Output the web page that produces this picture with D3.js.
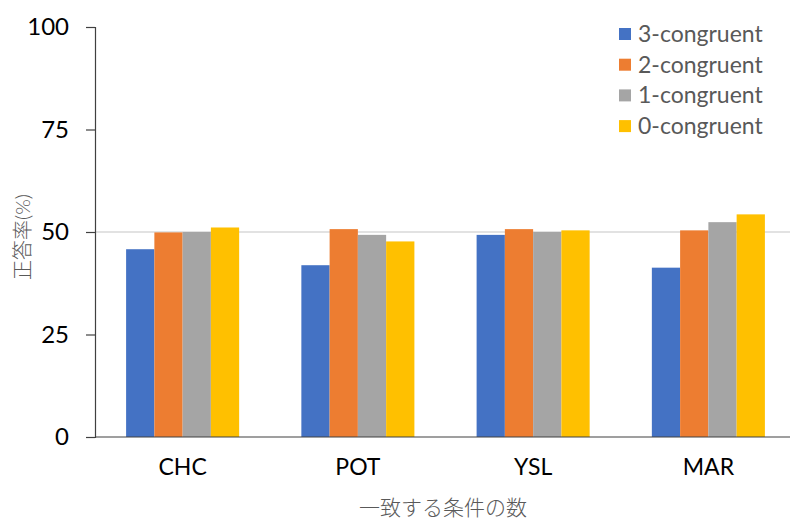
<!DOCTYPE html>
<html>
<head>
<meta charset="utf-8">
<script src="https://cdn.jsdelivr.net/npm/d3@7"></script>
<style>
  body { margin: 0; background: #fff; }
  svg { display: block; }
  text { font-family: Lato, "Noto Sans", "Noto Sans CJK JP", sans-serif; }
</style>
</head>
<body>
<svg id="chart" width="790" height="518"></svg>
<script>
const categories = ["CHC", "POT", "YSL", "MAR"];
const seriesNames = ["3-congruent", "2-congruent", "1-congruent", "0-congruent"];
const values3 = [45.8, 41.9, 49.3, 41.3];
const values2 = [49.9, 50.7, 50.7, 50.4];
const values1 = [50.0, 49.3, 50.0, 52.4];
const values0 = [51.1, 47.7, 50.4, 54.3];
const yTicks = [0, 25, 50, 75, 100];
const gridValues = [50];
const colors = ["#4472C4", "#ED7D31", "#A5A5A5", "#FFC000"];
const yTitle = "正答率(%)";
const xTitle = "一致する条件の数";

const seriesValues = [values3, values2, values1, values0];

const svg = d3.select("#chart");
const plotLeft = 95, plotRight = 796, plotTop = 27, plotBottom = 437;

const x = d3.scaleBand().domain(categories).range([plotLeft, plotRight]).paddingInner(0.355).paddingOuter(0.1775);
const xs = d3.scaleBand().domain(seriesNames).range([0, x.bandwidth()]);
const y = d3.scaleLinear().domain([0, 100]).range([plotBottom, plotTop]);

// gridline
svg.append("g").selectAll("line").data(gridValues).join("line")
  .attr("x1", plotLeft).attr("x2", 790)
  .attr("y1", d => y(d)).attr("y2", d => y(d))
  .attr("stroke", "#D9D9D9").attr("stroke-width", 1.5);

// bars
const groups = svg.append("g").selectAll("g").data(categories).join("g")
  .attr("transform", d => `translate(${x(d)},0)`);
groups.selectAll("rect")
  .data((c, ci) => seriesNames.map((s, si) => ({ s, si, v: seriesValues[si][ci] })))
  .join("rect")
  .attr("x", d => xs(d.s))
  .attr("width", xs.bandwidth())
  .attr("y", d => y(d.v))
  .attr("height", d => plotBottom - y(d.v))
  .attr("fill", d => colors[d.si]);

// y axis
const yAxis = svg.append("g").attr("transform", `translate(${plotLeft},0)`)
  .call(d3.axisLeft(y).tickValues(yTicks).tickSize(9).tickPadding(17));
yAxis.select(".domain").attr("stroke", "#404040").attr("stroke-width", 1.2);
yAxis.selectAll(".tick line").attr("stroke", "#404040").attr("stroke-width", 1.2);
yAxis.selectAll(".tick text").attr("font-size", 24).attr("fill", "#000")
  .attr("font-family", "Lato, 'Noto Sans', sans-serif");

// x axis
const xAxis = svg.append("g").attr("transform", `translate(0,${plotBottom})`)
  .call(d3.axisBottom(x).tickSize(0).tickPadding(22));
xAxis.select(".domain").attr("stroke", "#404040").attr("stroke-width", 1.2)
  .attr("d", `M${plotLeft},0H790`);
xAxis.selectAll(".tick text").attr("font-size", 23).attr("fill", "#000")
  .attr("font-family", "Lato, 'Noto Sans', sans-serif");

// axis titles
svg.append("text")
  .attr("x", 443).attr("y", 515)
  .attr("text-anchor", "middle")
  .attr("font-size", 21).attr("font-weight", 300).attr("fill", "#595959")
  .attr("font-family", "'Noto Sans CJK JP', sans-serif")
  .text(xTitle);
svg.append("text")
  .attr("transform", "translate(30,237) rotate(-90)")
  .attr("text-anchor", "middle")
  .attr("font-size", 20).attr("font-weight", 300).attr("fill", "#595959")
  .attr("font-family", "'Noto Sans CJK JP', sans-serif")
  .text(yTitle);

// legend
const legend = svg.append("g").selectAll("g").data(seriesNames).join("g")
  .attr("transform", (d, i) => `translate(619,${34 + i * 30.7})`);
legend.append("rect").attr("x", 0).attr("y", -6).attr("width", 12).attr("height", 12)
  .attr("fill", (d, i) => colors[i]);
legend.append("text").attr("x", 19).attr("y", 0).attr("dy", "0.35em")
  .attr("font-size", 23).attr("fill", "#595959")
  .text(d => d);
</script>
</body>
</html>
